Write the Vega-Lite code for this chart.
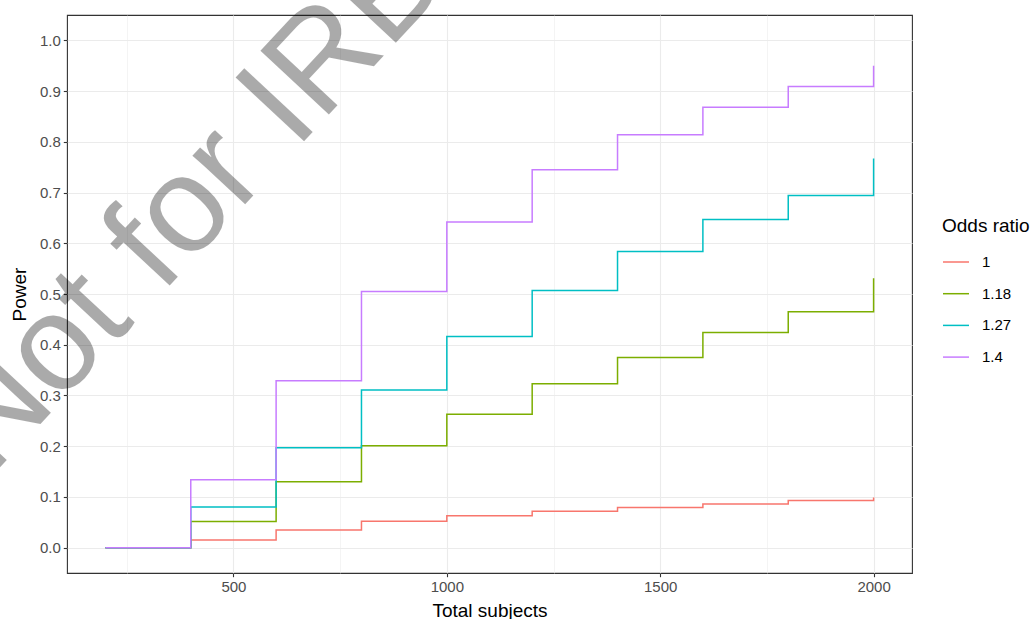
{
  "$schema": "https://vega.github.io/schema/vega-lite/v6.json",
  "autosize": {"type": "none"},
  "padding": {"left": 67, "top": 15, "right": 124, "bottom": 46},
  "width": 845,
  "height": 558,
  "background": "white",
  "data": {
    "values": [
      {"n": 200, "power": 0, "or": "1"},
      {"n": 400, "power": 0.0152, "or": "1"},
      {"n": 600, "power": 0.035, "or": "1"},
      {"n": 800, "power": 0.052, "or": "1"},
      {"n": 1000, "power": 0.0628, "or": "1"},
      {"n": 1200, "power": 0.0718, "or": "1"},
      {"n": 1400, "power": 0.079, "or": "1"},
      {"n": 1600, "power": 0.086, "or": "1"},
      {"n": 1800, "power": 0.0928, "or": "1"},
      {"n": 2000, "power": 0.0987, "or": "1"},
      {"n": 200, "power": 0, "or": "1.18"},
      {"n": 400, "power": 0.0513, "or": "1.18"},
      {"n": 600, "power": 0.130, "or": "1.18"},
      {"n": 800, "power": 0.2007, "or": "1.18"},
      {"n": 1000, "power": 0.263, "or": "1.18"},
      {"n": 1200, "power": 0.323, "or": "1.18"},
      {"n": 1400, "power": 0.375, "or": "1.18"},
      {"n": 1600, "power": 0.424, "or": "1.18"},
      {"n": 1800, "power": 0.465, "or": "1.18"},
      {"n": 2000, "power": 0.531, "or": "1.18"},
      {"n": 200, "power": 0, "or": "1.27"},
      {"n": 400, "power": 0.0803, "or": "1.27"},
      {"n": 600, "power": 0.197, "or": "1.27"},
      {"n": 800, "power": 0.311, "or": "1.27"},
      {"n": 1000, "power": 0.416, "or": "1.27"},
      {"n": 1200, "power": 0.507, "or": "1.27"},
      {"n": 1400, "power": 0.584, "or": "1.27"},
      {"n": 1600, "power": 0.647, "or": "1.27"},
      {"n": 1800, "power": 0.694, "or": "1.27"},
      {"n": 2000, "power": 0.767, "or": "1.27"},
      {"n": 200, "power": 0, "or": "1.4"},
      {"n": 400, "power": 0.1336, "or": "1.4"},
      {"n": 600, "power": 0.329, "or": "1.4"},
      {"n": 800, "power": 0.505, "or": "1.4"},
      {"n": 1000, "power": 0.642, "or": "1.4"},
      {"n": 1200, "power": 0.745, "or": "1.4"},
      {"n": 1400, "power": 0.814, "or": "1.4"},
      {"n": 1600, "power": 0.868, "or": "1.4"},
      {"n": 1800, "power": 0.909, "or": "1.4"},
      {"n": 2000, "power": 0.950, "or": "1.4"}
    ]
  },
  "layer": [
    {
      "mark": {"type": "line", "interpolate": "step-after", "strokeWidth": 1.5},
      "encoding": {
        "x": {
          "field": "n", "type": "quantitative",
          "scale": {"domain": [110, 2090], "nice": false, "zero": false},
          "axis": {
            "title": "Total subjects",
            "values": [250, 500, 750, 1000, 1250, 1500, 1750, 2000],
            "format": "d",
            "labelExpr": "datum.value % 500 === 0 ? datum.label : ''",
            "gridWidth": {"condition": {"test": "datum.value % 500 === 0", "value": 1.1}, "value": 0.55},
            "tickOpacity": {"condition": {"test": "datum.value % 500 === 0", "value": 1}, "value": 0},
            "labelPadding": 3,
            "titlePadding": 7
          }
        },
        "y": {
          "field": "power", "type": "quantitative",
          "scale": {"domain": [-0.05, 1.05], "nice": false, "zero": false},
          "axis": {
            "title": "Power",
            "values": [0, 0.05, 0.1, 0.15, 0.2, 0.25, 0.3, 0.35, 0.4, 0.45, 0.5, 0.55, 0.6, 0.65, 0.7, 0.75, 0.8, 0.85, 0.9, 0.95, 1.0],
            "format": ".1f",
            "labelExpr": "round(datum.value * 100) % 10 === 0 ? datum.label : ''",
            "gridWidth": {"condition": {"test": "round(datum.value * 100) % 10 === 0", "value": 1.1}, "value": 0.55},
            "tickOpacity": {"condition": {"test": "round(datum.value * 100) % 10 === 0", "value": 1}, "value": 0},
            "labelPadding": 3,
            "titlePadding": 10
          }
        },
        "color": {
          "field": "or", "type": "nominal",
          "scale": {"domain": ["1", "1.18", "1.27", "1.4"], "range": ["#F8766D", "#7CAE00", "#00BFC4", "#C77CFF"]},
          "legend": {
            "title": "Odds ratio",
            "orient": "none",
            "legendX": 875,
            "legendY": 202
          }
        }
      }
    },
    {
      "data": {"values": [{"mark": "Not for IRB"}]},
      "mark": {"type": "text", "font": "Liberation Sans", "fontSize": 136, "angle": 313, "align": "center", "baseline": "middle", "fill": "#000000", "opacity": 0.33},
      "encoding": {
        "x": {"datum": 400},
        "y": {"datum": 0.68},
        "text": {"field": "mark"}
      }
    }
  ],
  "config": {
    "font": "Liberation Sans",
    "view": {"stroke": "#333333", "strokeWidth": 1.1},
    "axis": {
      "domain": false,
      "grid": true,
      "gridColor": "#EBEBEB",
      "tickColor": "#333333",
      "tickSize": 3.7,
      "tickWidth": 1.1,
      "labelColor": "#4D4D4D",
      "labelFontSize": 15,
      "titleFontSize": 19,
      "titleFontWeight": "normal",
      "titleColor": "#000000"
    },
    "legend": {
      "titleFontSize": 19,
      "titleFontWeight": "normal",
      "titleColor": "#000000",
      "titlePadding": 12,
      "labelFontSize": 15,
      "labelColor": "#000000",
      "symbolType": "stroke",
      "symbolSize": 676,
      "symbolStrokeWidth": 1.5,
      "rowPadding": 9.7,
      "labelOffset": 12,
      "padding": 0
    }
  }
}
